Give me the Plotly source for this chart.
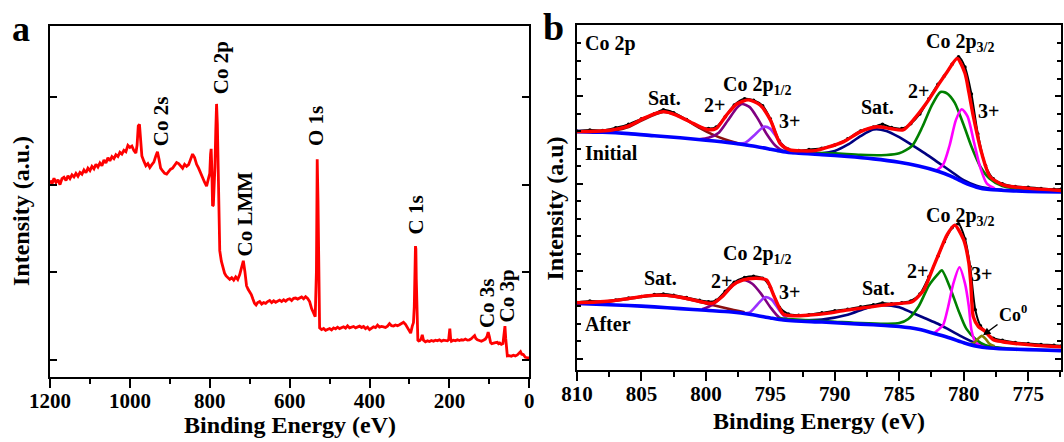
import plotly.graph_objects as go

# ---------------- DATA ----------------
# Panel a: XPS survey spectrum
survey_E = [1200, 1195, 1190, 1185, 1180, 1175, 1170, 1165, 1160, 1155, 1150, 1145, 1140, 1135, 1130, 1125,
            1120, 1115, 1110, 1105, 1100, 1095, 1090, 1085, 1080, 1075, 1070, 1065, 1060, 1055, 1050, 1045,
            1040, 1035, 1030, 1025, 1020, 1015, 1010, 1005, 1000, 995, 990, 985, 982, 979, 976, 973, 970,
            965, 960, 955, 950, 945, 940, 935, 931, 927, 923, 918, 913, 908, 903, 898, 893, 888, 883, 878,
            873, 868, 863, 858, 853, 848, 843, 838, 833, 828, 823, 818, 813, 808, 803, 800, 798, 796.5, 795,
            793, 791, 789, 787, 785, 783, 781, 779, 777, 775, 771, 767, 763, 759, 755, 750, 745, 740, 735,
            730, 725, 720, 716, 712, 708, 704, 700, 696, 692, 688, 684, 680, 675, 670, 665, 660, 655, 650,
            645, 640, 635, 630, 625, 620, 615, 610, 605, 600, 595, 590, 585, 580, 575, 570, 565, 560, 555,
            550, 545, 540, 536, 533, 531, 529, 527, 525, 520, 515, 510, 505, 500, 495, 490, 485, 480, 475,
            470, 465, 460, 455, 450, 445, 440, 435, 430, 425, 420, 415, 410, 405, 400, 395, 390, 385, 380,
            375, 370, 365, 360, 355, 350, 345, 340, 335, 330, 325, 320, 315, 310, 305, 300, 297, 293, 290,
            288, 286, 285, 284, 283, 281, 279, 277, 274, 271, 268, 265, 260, 255, 250, 245, 240, 235, 230,
            225, 220, 215, 210, 205, 202, 200, 199, 197, 195, 190, 185, 180, 175, 170, 165, 160, 155, 150,
            145, 140, 137, 134, 130, 125, 120, 115, 110, 106, 103, 100, 97, 94, 90, 85, 80, 77, 74, 70, 66,
            63, 61, 59, 57, 55, 50, 45, 40, 35, 30, 25, 22, 19, 15, 10, 5, 2, 0]
survey_I = [56.0, 55.0, 56.6, 55.4, 56.2, 54.8, 56.5, 56.9, 56.0, 57.3, 56.5, 57.6, 57.0, 58.0, 57.2, 58.3,
            57.8, 59.0, 58.2, 59.5, 58.8, 60.0, 59.3, 60.6, 59.8, 61.0, 60.2, 61.8, 61.0, 62.5, 61.6, 62.8,
            62.2, 63.3, 62.8, 64.0, 63.5, 64.6, 64.2, 66.0, 65.4, 65.8, 64.5, 63.8, 66.0, 71.5, 72.0, 67.0, 63.0,
            61.5, 60.2, 60.8, 59.7, 60.5, 61.2, 63.0, 64.2, 62.0, 59.5, 58.7, 58.0, 57.8, 58.5, 59.2, 59.5, 60.5, 61.1, 60.8,
            60.2, 59.5, 60.6, 60.0, 60.5, 62.0, 63.5, 62.5, 60.6, 59.5, 58.0, 56.4, 55.5, 54.4, 56.8, 58.0, 63.5, 65.0, 60.0,
            48.7, 49.0, 54.0, 60.0, 70.0, 77.8, 72.0, 55.0, 40.0, 36.0, 33.0, 31.0, 29.6, 28.8, 28.2, 27.8, 28.3, 27.6, 28.5,
            27.8, 29.2, 31.5, 33.1, 30.0, 26.0, 25.0, 24.2, 23.5, 22.2, 21.0, 20.5, 21.2, 21.5, 20.8, 21.2, 21.0, 21.5, 21.8,
            21.2, 21.7, 21.3, 21.6, 21.9, 21.5, 22.0, 21.6, 22.1, 22.3, 21.8, 22.4, 22.5, 22.2, 22.6, 22.8, 22.3, 22.9, 22.4,
            21.5, 19.5, 18.0, 17.2, 30.0, 62.0, 50.0, 20.0, 14.0, 13.5, 13.8, 13.3, 13.6, 13.8, 13.4, 14.0, 13.7, 14.2, 13.8,
            14.0, 14.3, 13.9, 14.6, 14.0, 14.2, 14.4, 14.0, 14.3, 14.5, 14.1, 14.4, 13.8, 14.2, 13.5, 14.0, 14.3, 14.1, 14.8,
            14.2, 14.4, 14.3, 14.1, 14.5, 15.2, 14.6, 14.5, 14.8, 14.6, 14.9, 15.2, 15.6, 15.0, 14.0, 13.0, 12.5, 14.5, 15.5,
            20.0, 30.0, 37.3, 36.5, 28.0, 15.0, 10.5, 10.3, 10.4, 10.8, 12.0, 10.5, 10.0, 10.3, 10.1, 10.4, 10.2, 10.5, 10.3,
            10.6, 10.2, 10.5, 10.4, 10.3, 10.6, 13.0, 13.8, 11.0, 10.2, 10.5, 10.3, 10.6, 10.4, 10.6, 10.5, 10.8, 10.5, 10.6,
            10.9, 11.5, 11.8, 11.0, 10.6, 10.4, 10.2, 10.5, 10.8, 11.5, 12.8, 11.5, 9.8, 9.5, 9.7, 9.8, 9.9, 9.5, 9.7, 9.3, 9.5,
            12.5, 14.5, 11.0, 6.5, 6.0, 6.1, 5.9, 6.2, 6.0, 6.3, 7.0, 7.2, 6.5, 6.4, 5.6, 5.5, 5.2, 5.8]

survey_labels = ["Co 2s", "Co 2p", "Co LMM", "O 1s", "C 1s", "Co 3s", "Co 3p"]
survey_label_E = [922, 770, 711, 535.5, 283, 104, 56]
survey_label_I = [72.9, 88.2, 46.4, 71.6, 46.1, 21.0, 23.2]

# Panel b: Co 2p, Initial
ini_raw_E = [810, 809, 808, 807, 806, 805, 804, 803.3, 802.5, 801.5, 800.5, 799.8, 799.2, 798.5, 797.8, 797.0,
             796.3, 795.6, 795.0, 794.3, 793.6, 792.8, 792.0, 791.0, 790.0, 789.0, 788.0, 787.0, 786.3, 785.6,
             784.8, 784.1, 783.4, 782.7, 782.0, 781.5, 780.9, 780.4, 779.9, 779.4, 778.9, 778.3, 777.7, 777.0,
             776.0, 775.0, 774.0, 773.0, 772.4]
ini_raw_I = [69.3, 69.6, 69.4, 70.2, 71.2, 72.8, 74.3, 75.4, 74.6, 72.6, 70.4, 70.0, 70.4, 73.4, 76.8, 78.6,
             78.2, 76.6, 72.8, 66.4, 64.0, 63.6, 63.9, 64.3, 65.2, 67.0, 69.3, 70.4, 71.2, 70.3,
             70.0, 71.4, 74.2, 78.6, 82.8, 85.2, 88.6, 90.8, 87.8, 80.0, 68.4, 59.2, 55.4, 54.0,
             53.2, 53.0, 52.6, 52.4, 52.5]
ini_env_E = [810, 808.5, 807.4, 806.1, 804.8, 803.9, 803.3, 802.3, 801.0, 799.9, 799.2, 798.4, 797.6, 796.7,
             795.8, 795.0, 794.25, 793.5, 792.5, 791.5, 790.6, 789.3, 788.0, 786.7, 785.7, 784.7, 783.9, 782.9,
             781.8, 781.3, 780.5, 779.9, 779.6, 779.25, 778.6, 777.95, 776.9, 775.1, 772.4]
ini_env_I = [69.1, 69.2, 69.5, 70.6, 73.0, 74.4, 74.9, 73.9, 71.5, 69.7, 70.0, 73.9, 77.1, 78.3,
             76.8, 72.5, 65.7, 63.8, 63.5, 63.6, 64.5, 66.2, 69.1, 70.5, 70.0, 69.6, 72.5, 77.3,
             83.6, 86.3, 90.3, 86.0, 80.5, 73.5, 62.8, 56.0, 53.6, 52.7, 52.0]
ini_bg_E = [810, 808, 806, 804, 802, 800, 798, 796.5, 795, 794, 793, 791, 789, 787, 785, 783.5, 782, 781, 780,
            779, 778, 776, 774, 772.4]
ini_bg_I = [69.1, 68.9, 68.5, 67.9, 67.3, 66.6, 65.8, 65.0, 64.0, 63.3, 62.9, 62.4, 61.9, 61.2, 60.2, 59.1,
            57.6, 56.2, 54.4, 53.0, 52.3, 51.9, 51.7, 51.6]
ini_sat1_E = [810, 808, 807, 806, 805, 804, 803.3, 802.5, 801.5, 800.5, 799.5, 798.5, 797.5, 796.5]
ini_sat1_I = [69.1, 69.1, 69.5, 70.4, 72.3, 74.0, 74.8, 74.2, 72.4, 70.2, 68.3, 66.8, 65.7, 65.0]
ini_p12a_E = [800.5, 799.8, 799.0, 798.3, 797.6, 797.2, 796.6, 796.0, 795.3, 794.6, 794.0, 793.2]
ini_p12a_I = [66.9, 67.3, 68.8, 72.3, 76.0, 77.1, 76.2, 73.0, 68.5, 65.0, 63.5, 62.9]
ini_p12b_E = [797.6, 796.9, 796.2, 795.5, 795.0, 794.4, 793.8, 793.2]
ini_p12b_I = [65.5, 66.0, 68.2, 70.5, 69.9, 66.8, 63.9, 62.9]
ini_sat2_E = [792.5, 791, 790, 789, 788, 787, 786, 785, 784, 783, 782, 781, 780, 779, 778, 777]
ini_sat2_I = [62.7, 62.8, 63.5, 65.3, 67.8, 69.7, 69.3, 67.5, 65.2, 62.8, 60.2, 57.6, 55.0, 53.4, 52.6, 52.2]
ini_p32a_E = [794.5, 792, 790, 788, 786, 785, 784, 783.2, 782.5, 781.8, 781.3, 780.7, 780.0, 779.4, 778.7,
              778.0, 777.0, 776.0, 774.0, 772.4]
ini_p32a_I = [63.5, 63.0, 62.8, 62.4, 62.3, 62.8, 65.0, 70.5, 76.5, 80.6, 80.2, 77.5, 71.0, 64.8, 58.9,
              55.5, 53.3, 52.6, 52.0, 51.8]
ini_p32b_E = [782.2, 781.6, 781.1, 780.6, 780.15, 779.7, 779.2, 778.7, 778.2, 777.6]
ini_p32b_I = [57.6, 59.5, 65.0, 72.5, 75.6, 73.5, 66.0, 58.5, 54.0, 52.6]

# Panel b: Co 2p, After
aft_raw_E = [810, 809, 808, 807, 806, 805, 804, 803.3, 802.5, 801.5, 800.5, 799.8, 799.2, 798.5, 797.8, 797.0,
             796.3, 795.6, 795.0, 794.3, 793.6, 792.8, 792.0, 791.0, 790.0, 789.0, 788.0, 787.0, 786.3, 785.6,
             784.8, 784.1, 783.4, 782.7, 782.0, 781.5, 780.9, 780.4, 779.9, 779.5, 779.1, 778.7, 778.3, 777.7,
             777.0, 776.0, 775.0, 774.0, 773.0, 772.4]
aft_raw_I = [19.6, 20.0, 19.8, 20.3, 20.9, 21.3, 21.9, 22.0, 21.7, 21.0, 20.2, 19.8, 20.2, 22.8, 25.4, 26.8,
             27.2, 26.6, 24.0, 18.2, 16.2, 15.9, 16.0, 16.6, 17.2, 17.6, 18.3, 18.9, 19.4, 19.2,
             19.5, 20.0, 22.0, 27.0, 33.0, 37.2, 41.2, 42.4, 38.0, 30.0, 17.5, 12.8, 11.0, 9.2,
             8.6, 8.0, 7.7, 7.4, 7.2, 7.0]
aft_env_E = [810, 808.5, 807.4, 806, 804.8, 803.6, 802.3, 801.2, 800.3, 799.5, 798.7, 797.9, 797.1, 796.1,
             795.3, 794.7, 794.0, 793.2, 792, 790.6, 789.2, 788.0, 786.2, 784.9, 784.0, 783.1, 782.35, 781.8,
             781.3, 780.7, 780.0, 779.6, 779.45, 779.25, 778.86, 778.4, 777.7, 777.0, 776.0, 774.6, 772.4]
aft_env_I = [19.5, 19.7, 20.0, 20.7, 21.4, 21.7, 21.3, 20.5, 19.7, 19.3, 21.4, 24.6, 26.1, 26.6,
             26.1, 21.3, 16.2, 15.7, 15.9, 16.4, 17.3, 17.9, 18.8, 19.3, 19.8, 23.2, 29.9, 34.8,
             39.1, 42.0, 37.7, 31.0, 25.1, 15.4, 12.6, 11.4, 8.8, 8.2, 7.7, 7.2, 6.7]
aft_bg_E = [810, 808, 806, 804, 802, 800, 798, 796.5, 795, 794, 793, 791, 789, 787, 785, 783.5, 782, 781, 780,
            779, 778, 776, 774, 772.4]
aft_bg_I = [19.3, 19.0, 18.7, 18.3, 17.8, 17.3, 16.8, 16.1, 15.1, 14.5, 14.2, 13.9, 13.5, 13.1, 12.6, 11.8,
            10.3, 9.2, 7.9, 6.9, 6.4, 6.0, 5.8, 5.6]
aft_sat1_E = [810, 808, 806, 804.5, 803.5, 802.5, 801, 800, 799, 798, 797]
aft_sat1_I = [19.3, 19.6, 20.6, 21.4, 21.6, 21.3, 20.2, 19.3, 18.4, 17.5, 16.7]
aft_p12a_E = [800.3, 799.5, 798.6, 797.8, 797.1, 796.4, 795.7, 795.0, 794.3, 793.5]
aft_p12a_I = [17.6, 18.9, 21.8, 24.9, 26.1, 25.0, 22.0, 18.2, 15.2, 14.4]
aft_p12b_E = [797.2, 796.6, 796.0, 795.4, 794.9, 794.3, 793.7, 793.0]
aft_p12b_I = [16.4, 16.7, 19.0, 21.1, 20.4, 17.3, 14.8, 14.3]
aft_sat2_E = [793, 791, 789, 787.5, 786.4, 785, 784, 783, 782, 781, 780, 779, 778, 777]
aft_sat2_I = [14.3, 14.6, 16.0, 18.0, 18.8, 18.2, 16.6, 15.0, 13.4, 11.4, 9.4, 7.7, 6.8, 6.3]
aft_p32a_E = [794.5, 792, 790, 788, 786, 785, 784.3, 783.5, 782.7, 782.0, 781.7, 781.05, 780.4, 779.8, 779.0,
              778.3, 777.5, 776, 774, 772.4]
aft_p32a_I = [15.0, 14.4, 14.0, 13.6, 13.4, 13.6, 14.8, 18.4, 24.5, 27.8, 28.9, 23.8, 17.2, 12.0, 8.7,
              7.2, 6.6, 6.1, 5.8, 5.6]
aft_p32b_E = [782.3, 782.0, 781.6, 781.2, 780.8, 780.33, 779.9, 779.6, 779.4, 779.1, 778.7, 778.2]
aft_p32b_I = [10.6, 11.6, 13.0, 18.4, 25.1, 29.8, 25.1, 18.4, 11.6, 8.2, 7.0, 6.4]
aft_co0_E = [779.6, 779.2, 778.9, 778.6, 778.3, 778.0, 777.6]
aft_co0_I = [7.4, 7.9, 9.0, 9.9, 9.0, 7.6, 6.9]

# Panel b text labels
b_labels = ["Sat.", "2+", "Co 2p<sub>1/2</sub>", "3+", "Sat.", "2+", "Co 2p<sub>3/2</sub>", "3+",
            "Sat.", "2+", "Co 2p<sub>1/2</sub>", "3+", "Sat.", "2+", "Co 2p<sub>3/2</sub>", "3+"]
b_label_E = [803.2, 799.3, 796.0, 793.5, 786.7, 783.5, 780.3, 778.1,
             803.5, 798.8, 796.0, 793.5, 786.6, 783.6, 780.3, 778.6]
b_label_I = [78.8, 76.9, 82.6, 72.3, 76.1, 80.9, 94.8, 75.2,
             26.6, 25.8, 33.4, 22.6, 23.9, 28.7, 44.5, 27.8]
b_side_labels = ["Co 2p", "Initial", "After"]
b_side_I = [94.7, 62.8, 13.3]

# ---------------- FIGURE ----------------
W, H = 1064, 442
FONT = "Liberation Serif"


def pxx(x):
    return x / W


def pxy(y):
    return 1 - y / H


fig = go.Figure()

fig.add_trace(go.Scatter(x=survey_E, y=survey_I, mode="lines", xaxis="x", yaxis="y",
                         line=dict(color="#FF0000", width=2.8), showlegend=False, hoverinfo="skip"))


def add_b(E, I, color, width, markers=False):
    fig.add_trace(go.Scatter(
        x=E, y=I, mode="lines+markers" if markers else "lines", xaxis="x2", yaxis="y2",
        line=dict(color=color, width=width, shape="spline", smoothing=0.7),
        marker=dict(color=color, size=3.5) if markers else None,
        showlegend=False, hoverinfo="skip"))


for raw_E, raw_I in [(ini_raw_E, ini_raw_I), (aft_raw_E, aft_raw_I)]:
    add_b(raw_E, raw_I, "#000000", 2, markers=True)

comp_sets = [
    (ini_sat1_E, ini_sat1_I, "#8B1010"), (ini_p12a_E, ini_p12a_I, "#800080"),
    (ini_p12b_E, ini_p12b_I, "#9B30FF"), (ini_sat2_E, ini_sat2_I, "#000080"),
    (ini_p32a_E, ini_p32a_I, "#008000"), (ini_p32b_E, ini_p32b_I, "#FF00FF"),
    (aft_sat1_E, aft_sat1_I, "#8B1010"), (aft_p12a_E, aft_p12a_I, "#800080"),
    (aft_p12b_E, aft_p12b_I, "#9B30FF"), (aft_sat2_E, aft_sat2_I, "#000080"),
    (aft_p32a_E, aft_p32a_I, "#008000"), (aft_p32b_E, aft_p32b_I, "#FF00FF"),
    (aft_co0_E, aft_co0_I, "#808000"),
]
for E, I, c in comp_sets:
    add_b(E, I, c, 2.6)

add_b(ini_bg_E, ini_bg_I, "#0000FF", 3.6)
add_b(aft_bg_E, aft_bg_I, "#0000FF", 3.6)
add_b(ini_env_E, ini_env_I, "#FF0000", 3.4)
add_b(aft_env_E, aft_env_I, "#FF0000", 3.4)

tickfont = dict(family=FONT, size=21, color="black", weight="bold")
axis_common = dict(showline=True, linewidth=2, linecolor="black", showgrid=False, zeroline=False,
                   automargin=False)

fig.update_layout(
    width=W, height=H, margin=dict(l=0, r=0, t=0, b=0, pad=0, autoexpand=False),
    paper_bgcolor="white", plot_bgcolor="white", showlegend=False,
    xaxis=dict(domain=[pxx(50), pxx(529.3)], range=[1200, 0], anchor="y", mirror=True,
               ticks="outside", ticklen=9, tickwidth=2, tickcolor="black", tick0=0, dtick=200,
               minor=dict(dtick=100, ticklen=5, tickwidth=2, tickcolor="black", ticks="outside"),
               tickfont=tickfont, ticklabelstandoff=-5, **axis_common),
    yaxis=dict(domain=[pxy(377), pxy(26)], range=[0, 100], anchor="x", mirror="ticks",
               ticks="inside", ticklen=7, tickwidth=2, tickcolor="black", tick0=4.8, dtick=25,
               showticklabels=False, **axis_common),
    xaxis2=dict(domain=[pxx(577), pxx(1061)], range=[810, 772.45], anchor="y2", mirror=True,
                ticks="outside", ticklen=9, tickwidth=2, tickcolor="black", tick0=0, dtick=5,
                minor=dict(dtick=2.5, ticklen=5, tickwidth=2, tickcolor="black", ticks="outside"),
                tickfont=tickfont, ticklabelstandoff=-5, **axis_common),
    xaxis3=dict(overlaying="x2", side="top", anchor="y2", range=[810, 772.45], showline=False,
                ticks="inside", ticklen=5, tickwidth=2, tickcolor="black", tick0=0, dtick=2.5,
                showticklabels=False, showgrid=False, zeroline=False, automargin=False),
    yaxis2=dict(domain=[pxy(370), pxy(25)], range=[0, 100], anchor="x2", mirror="ticks",
                ticks="inside", ticklen=6, tickwidth=2, tickcolor="black", tick0=3.2, dtick=25.4,
                minor=dict(dtick=5.08, tick0=3.2, ticklen=4, tickwidth=1.5, tickcolor="black", ticks="inside"),
                showticklabels=False, **axis_common),
)

ann = []
for t, e, i in zip(survey_labels, survey_label_E, survey_label_I):
    ann.append(dict(x=e, y=i, xref="x", yref="y", text="<b>%s</b>" % t, textangle=-90, showarrow=False,
                    font=dict(family=FONT, size=21, color="black"), xanchor="center", yanchor="middle"))
for t, e, i in zip(b_labels, b_label_E, b_label_I):
    ann.append(dict(x=e, y=i, xref="x2", yref="y2", text="<b>%s</b>" % t, showarrow=False,
                    font=dict(family=FONT, size=20, color="black"), xanchor="center", yanchor="middle"))
for t, i in zip(b_side_labels, b_side_I):
    ann.append(dict(x=809.53, y=i, xref="x2", yref="y2", text="<b>%s</b>" % t, showarrow=False,
                    font=dict(family=FONT, size=20, color="black"), xanchor="left", yanchor="middle"))
# Co0 label with arrow
ann.append(dict(x=778.5, y=10.1, xref="x2", yref="y2", text="<b>Co<sup>0</sup></b>", showarrow=True,
                arrowhead=2, arrowsize=1, arrowwidth=1.5, arrowcolor="black", ax=30, ay=-22,
                font=dict(family=FONT, size=18, color="black")))
# Panel letters
ann.append(dict(x=pxx(20.5), y=pxy(29), xref="paper", yref="paper", text="<b>a</b>", showarrow=False,
                font=dict(family=FONT, size=36, color="black"), xanchor="center", yanchor="middle"))
ann.append(dict(x=pxx(553), y=pxy(27), xref="paper", yref="paper", text="<b>b</b>", showarrow=False,
                font=dict(family=FONT, size=38, color="black"), xanchor="center", yanchor="middle"))
# Axis titles
ann.append(dict(x=pxx(290), y=pxy(425), xref="paper", yref="paper", text="<b>Binding Energy (eV)</b>",
                showarrow=False, font=dict(family=FONT, size=24, color="black"), xanchor="center", yanchor="middle"))
ann.append(dict(x=pxx(819), y=pxy(421), xref="paper", yref="paper", text="<b>Binding Energy (eV)</b>",
                showarrow=False, font=dict(family=FONT, size=24, color="black"), xanchor="center", yanchor="middle"))
ann.append(dict(x=pxx(21), y=pxy(211), xref="paper", yref="paper", text="<b>Intensity (a.u.)</b>", textangle=-90,
                showarrow=False, font=dict(family=FONT, size=24, color="black"), xanchor="center", yanchor="middle"))
ann.append(dict(x=pxx(554), y=pxy(208.5), xref="paper", yref="paper", text="<b>Intensity (a.u)</b>", textangle=-90,
                showarrow=False, font=dict(family=FONT, size=24, color="black"), xanchor="center", yanchor="middle"))

fig.update_layout(annotations=ann)
fig.write_html("out.html", config={"displayModeBar": False},
               post_script="document.body.style.margin='0';document.body.style.overflow='hidden';")
